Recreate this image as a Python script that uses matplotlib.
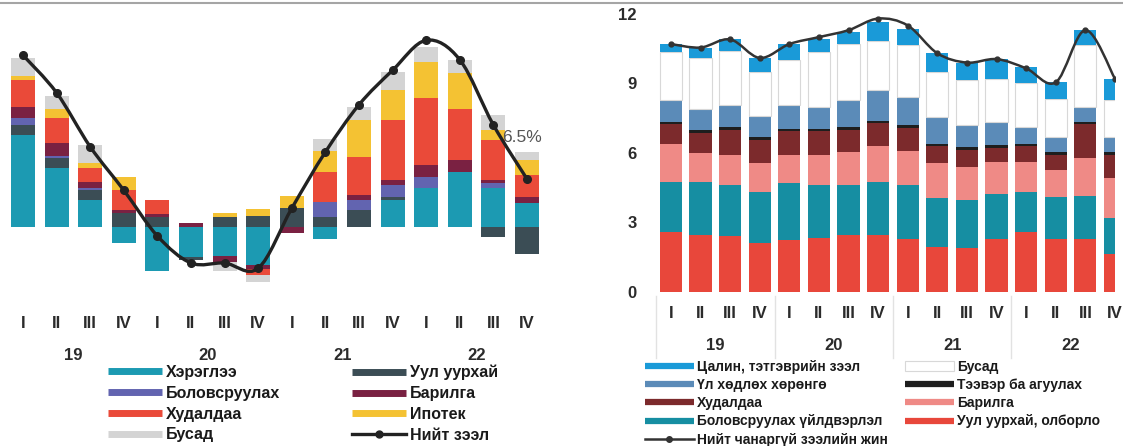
import matplotlib
matplotlib.use("Agg")
import matplotlib.pyplot as plt
import numpy as np
from matplotlib.path import Path
from matplotlib.patches import PathPatch, Patch
from matplotlib.lines import Line2D
from matplotlib.transforms import blended_transform_factory

plt.rcParams['font.family'] = ['Liberation Sans', 'DejaVu Sans']

# ---------------- data ----------------
quarters = ['I', 'II', 'III', 'IV'] * 4
years = ['19', '20', '21', '22']

# Left chart: contribution to loan growth (%)
consumer      = [12.3, 7.9, 3.6, -2.1, -5.9, -4.0, -3.9, -5.1, 0.0, -1.6, 0.0, 3.6, 5.2, 7.3, 5.2, 3.2]
mining_l      = [1.3, 1.3, 1.3, 1.9, 1.4, -0.4, 1.3, 1.5, 2.6, 1.3, 2.3, 0.4, 0.0, 0.0, -1.3, -3.6]
manufact_l    = [0.9, 0.3, 0.3, 0.0, 0.0, 0.0, 0.0, 0.0, 0.0, 2.0, 1.3, 1.6, 1.5, 0.0, 0.7, 0.0]
construct_l   = [1.5, 1.7, 0.8, 0.4, 0.3, 0.6, -0.7, -0.5, -0.8, 0.0, 0.7, 0.7, 1.6, 1.6, 0.4, 0.8]
trade_l       = [3.6, 3.3, 1.9, 2.7, 1.9, 0.0, 0.0, -0.8, 0.0, 4.0, 5.1, 8.0, 8.9, 6.9, 5.3, 2.9]
mortgage      = [0.5, 1.3, 0.7, 1.7, 0.0, 0.0, 0.6, 0.9, 1.6, 2.9, 4.9, 4.0, 4.8, 4.8, 1.3, 2.0]
other_l       = [2.5, 1.7, 2.4, 0.0, 0.0, 0.0, -1.3, -0.9, 0.0, 1.6, 1.7, 2.4, 2.0, 1.6, 2.0, 1.1]
total_loans   = [22.9, 17.9, 10.7, 4.9, -1.2, -4.8, -4.8, -5.5, 2.5, 10.0, 16.3, 20.9, 24.9, 22.3, 13.6, 6.4]

# Right chart: NPL share by sector (%)
mining_r      = [2.6, 2.45, 2.4, 2.1, 2.25, 2.35, 2.45, 2.45, 2.3, 1.95, 1.9, 2.3, 2.6, 2.3, 2.3, 1.65]
manufact_r    = [2.15, 2.3, 2.2, 2.2, 2.45, 2.25, 2.15, 2.3, 2.3, 2.1, 2.05, 1.95, 1.7, 1.8, 1.85, 1.55]
construct_r   = [1.65, 1.23, 1.3, 1.25, 1.2, 1.3, 1.45, 1.55, 1.5, 1.5, 1.45, 1.35, 1.3, 1.15, 1.65, 1.7]
trade_r       = [0.83, 0.9, 1.08, 1.03, 1.03, 1.03, 0.93, 0.98, 0.98, 0.73, 0.73, 0.63, 0.68, 0.68, 1.43, 1.03]
transport_r   = [0.12, 0.12, 0.12, 0.12, 0.12, 0.12, 0.12, 0.12, 0.12, 0.12, 0.12, 0.12, 0.12, 0.12, 0.12, 0.12]
realestate_r  = [0.95, 0.9, 0.95, 0.9, 1.0, 0.95, 1.2, 1.3, 1.2, 1.15, 0.95, 1.0, 0.7, 0.65, 0.65, 0.65]
other_r       = [2.05, 2.2, 2.35, 1.9, 1.95, 2.35, 2.4, 2.15, 2.25, 1.95, 1.95, 1.85, 1.9, 1.65, 2.65, 1.6]
salary_r      = [0.35, 0.45, 0.5, 0.6, 0.7, 0.55, 0.5, 0.8, 0.7, 0.8, 0.75, 0.85, 0.7, 0.7, 0.65, 0.9]
npl_total     = [10.7, 10.55, 10.9, 10.1, 10.7, 11.0, 11.3, 11.8, 11.5, 10.3, 9.9, 10.05, 9.65, 9.05, 11.3, 9.2]
right_yticks  = [0, 3, 6, 9, 12]

# ---------------- figure ----------------
W, H = 1123, 446
fig = plt.figure(figsize=(W / 100, H / 100), dpi=100)


def px_axes(x0, x1, ytop, ybot):
    return fig.add_axes([x0 / W, 1 - ybot / H, (x1 - x0) / W, (ybot - ytop) / H])


def smooth_line(ax, x, y, color, lw, z):
    pts = np.column_stack([x, y]).astype(float)
    n = len(pts)
    verts = [pts[0]]
    codes = [Path.MOVETO]
    for i in range(n - 1):
        p0 = pts[i - 1] if i > 0 else pts[i]
        p1 = pts[i]
        p2 = pts[i + 1]
        p3 = pts[i + 2] if i + 2 < n else pts[i + 1]
        verts += [p1 + (p2 - p0) / 6.0, p2 - (p3 - p1) / 6.0, p2]
        codes += [Path.CURVE4] * 3
    ax.add_patch(PathPatch(Path(verts, codes), fill=False, ec=color, lw=lw,
                           zorder=z, capstyle='round', joinstyle='round'))


def stack_bars(ax, x, series, colors, width, edgecolors=None):
    pos = np.zeros(len(x))
    neg = np.zeros(len(x))
    for k, (vals, c) in enumerate(zip(series, colors)):
        v = np.array(vals, dtype=float)
        bottom = np.where(v >= 0, pos, neg)
        ec = edgecolors[k] if edgecolors else 'none'
        ax.bar(x, v, width=width, bottom=bottom, color=c, edgecolor=ec,
               linewidth=0.8 if ec != 'none' else 0, zorder=2)
        pos = pos + np.where(v >= 0, v, 0)
        neg = neg + np.where(v < 0, v, 0)


txt_col = '#2b2b2b'

# ---------------- left chart ----------------
axL = px_axes(6.2, 543.8, 10, 300)
x = np.arange(16)
left_colors = ['#1C9AB2', '#3B4D55', '#6264B0', '#7A2142', '#EA4A39', '#F4C233', '#D4D4D4']
stack_bars(axL, x, [consumer, mining_l, manufact_l, construct_l, trade_l, mortgage, other_l],
           left_colors, 0.72)
smooth_line(axL, x, total_loans, '#222222', 2.4, 5)
axL.plot(x, total_loans, linestyle='none', marker='o', ms=5.5, color='#222222', zorder=6)
axL.set_xlim(-0.5, 15.5)
axL.set_ylim((227 - 300) / 7.5, (227 - 10) / 7.5)
axL.axis('off')
axL.text(14.85, 11.9, '6.5%', ha='center', va='center', fontsize=12.5, color='#555555', zorder=7)

trL = blended_transform_factory(axL.transData, fig.transFigure)
for i, q in enumerate(quarters):
    axL.text(i, 1 - 323 / H, q, transform=trL, ha='center', va='center',
             fontsize=12, color=txt_col, fontweight='bold')
for j, yname in enumerate(years):
    axL.text(4 * j + 1.5, 1 - 355 / H, yname, transform=trL, ha='center', va='center',
             fontsize=12, color=txt_col, fontweight='bold')

# ---------------- right chart ----------------
axR = px_axes(656.2, 1115, 9.3, 292)
right_colors = ['#E8473B', '#168EA2', '#EF8A86', '#7C2A2C', '#1E1E1E', '#5B8BB8', '#FFFFFF', '#1A9AD8']
right_edges = ['none', 'none', 'none', 'none', 'none', 'none', '#D8D8D8', 'none']
stack_bars(axR, x, [mining_r, manufact_r, construct_r, trade_r, transport_r, realestate_r,
                    other_r, salary_r], right_colors, 0.75, right_edges)
smooth_line(axR, x, npl_total, '#333333', 1.8, 5)
axR.plot(x, npl_total, linestyle='none', marker='o', ms=3.5, color='#333333', zorder=6)
axR.set_xlim(-0.5, 15.0)
axR.set_ylim(0, 12.2)
for s in axR.spines.values():
    s.set_visible(False)
axR.set_yticks(right_yticks)
axR.set_yticklabels([str(v) for v in right_yticks], fontsize=12, color=txt_col, fontweight='bold')
axR.tick_params(axis='y', length=0, pad=14)
axR.set_xticks([])

trR = blended_transform_factory(axR.transData, fig.transFigure)
for i, q in enumerate(quarters):
    axR.text(i, 1 - 314 / H, q, transform=trR, ha='center', va='center',
             fontsize=12, color=txt_col, fontweight='bold', clip_on=False)
for j, yname in enumerate(years):
    axR.text(4 * j + 1.5, 1 - 345 / H, yname, transform=trR, ha='center', va='center',
             fontsize=12, color=txt_col, fontweight='bold')
for xs in [-0.5, 3.5, 7.5, 11.5]:
    axR.add_artist(Line2D([xs, xs], [1 - 296 / H, 1 - 358 / H], transform=trR,
                          color='#E2E2E2', lw=1, clip_on=False))

# top border line from the document
fig.add_artist(Line2D([0, 1], [1 - 2.5 / H] * 2, transform=fig.transFigure, color='#A5A5A5', lw=1.5))

# ---------------- legends ----------------
def leg(handles, labels, x_px, y_px, fs, hl, ls):
    lg = fig.legend(handles, labels, loc='upper left', bbox_to_anchor=(x_px / W, 1 - y_px / H),
                    frameon=False, fontsize=fs, handlelength=hl, handletextpad=0.25,
                    labelspacing=ls, borderpad=0, borderaxespad=0)
    for t in lg.get_texts():
        t.set_color('#1a1a1a')
        t.set_fontweight('bold')
    return lg


def bar_handle(c, lw):
    return Line2D([], [], color=c, lw=lw, solid_capstyle='butt')


leg([bar_handle(left_colors[0], 5), bar_handle(left_colors[2], 5),
     bar_handle(left_colors[4], 5), bar_handle(left_colors[6], 5)],
    ['Хэрэглээ', 'Боловсруулах', 'Худалдаа', 'Бусад'], 108, 365, 11.5, 3.4, 0.36)
leg([bar_handle(left_colors[1], 5), bar_handle(left_colors[3], 5),
     bar_handle(left_colors[5], 5),
     Line2D([], [], color='#222222', lw=2.4, marker='o', ms=5)],
    ['Уул уурхай', 'Барилга', 'Ипотек', 'Нийт зээл'], 352, 365, 11.5, 3.4, 0.36)

leg([bar_handle(right_colors[7], 4.5), bar_handle(right_colors[5], 4.5),
     bar_handle(right_colors[3], 4.5), bar_handle(right_colors[1], 4.5),
     Line2D([], [], color='#333333', lw=1.8, marker='o', ms=4)],
    ['Цалин, тэтгэврийн зээл', 'Үл хөдлөх хөрөнгө', 'Худалдаа',
     'Боловсруулах үйлдвэрлэл', 'Нийт чанаргүй зээлийн жин'], 645, 360, 10, 3.5, 0.3)
leg([Patch(facecolor='white', edgecolor='#D8D8D8', lw=0.8), bar_handle(right_colors[4], 4.5),
     bar_handle(right_colors[2], 4.5), bar_handle(right_colors[0], 4.5)],
    ['Бусад', 'Тээвэр ба агуулах', 'Барилга', 'Уул уурхай, олборло'], 905, 360, 10, 3.5, 0.3)

fig.savefig('out.png', dpi=100)
